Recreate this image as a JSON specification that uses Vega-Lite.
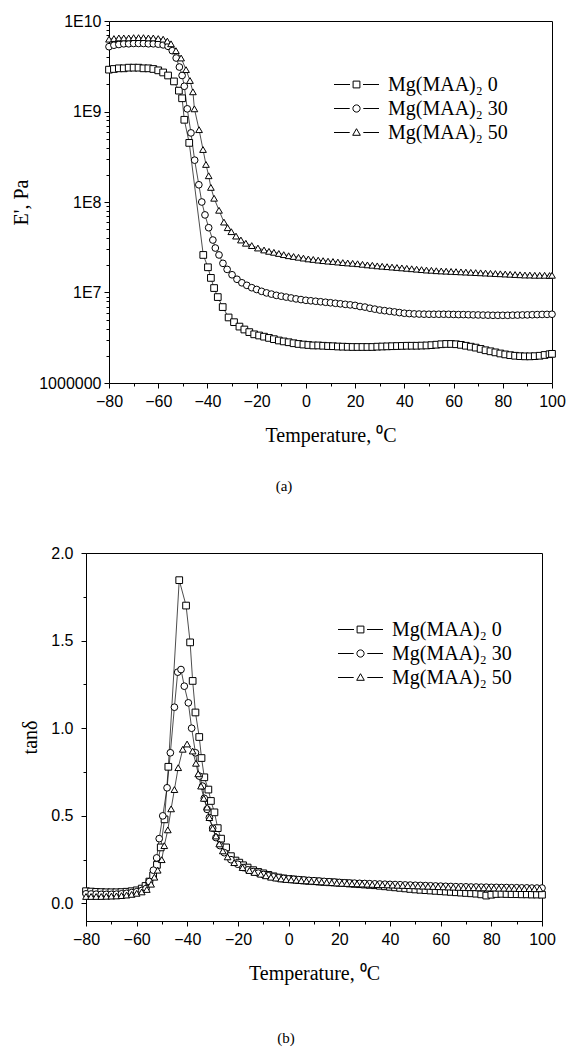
{
  "$schema": "https://vega.github.io/schema/vega-lite/v6.json",
  "background": "white",
  "padding": {"top": 13, "left": 11, "right": 5, "bottom": 5},
  "config": {
    "view": {"stroke": "black", "strokeWidth": 1},
    "axis": {"domainColor": "black", "tickColor": "black", "labelColor": "black", "titleColor": "black", "labelFont": "Liberation Sans", "labelFontSize": 16, "titleFont": "Liberation Serif", "titleFontSize": 20, "titleFontWeight": "normal", "grid": false, "domainWidth": 1, "tickWidth": 1, "labelFlush": false, "labelOverlap": false},
    "legend": {"labelFont": "Liberation Serif", "labelFontSize": 20, "labelColor": "black", "labelLimit": 400, "symbolOpacity": 1, "symbolStrokeColor": "black", "symbolStrokeWidth": 1},
    "title": {"font": "Liberation Serif", "fontSize": 15, "fontWeight": "normal", "color": "black"}
  },
  "spacing": 50,
  "resolve": {"scale": {"shape": "independent", "x": "independent", "y": "independent"}, "legend": {"shape": "independent"}},
  "datasets": {
    "modulus": [
      {"series":"0","T":-80,"E":2.9e9},{"series":"0","T":-78,"E":2.95e9},{"series":"0","T":-76,"E":3.0e9},{"series":"0","T":-74,"E":3.0e9},{"series":"0","T":-72,"E":3.05e9},{"series":"0","T":-70,"E":3.05e9},{"series":"0","T":-68,"E":3.05e9},{"series":"0","T":-66,"E":3.0e9},{"series":"0","T":-64,"E":3.0e9},{"series":"0","T":-62,"E":2.95e9},{"series":"0","T":-60,"E":2.85e9},{"series":"0","T":-58,"E":2.7e9},{"series":"0","T":-56,"E":2.5e9},{"series":"0","T":-53.6,"E":2.15e9},{"series":"0","T":-51.6,"E":1.7e9},{"series":"0","T":-50.3,"E":1.4e9},{"series":"0","T":-49.4,"E":8.1e8},{"series":"0","T":-47.4,"E":4.5e8},{"series":"0","T":-41.7,"E":2.6e7},{"series":"0","T":-39.8,"E":1.9e7},{"series":"0","T":-38.6,"E":1.45e7},{"series":"0","T":-37.3,"E":1.12e7},{"series":"0","T":-35.8,"E":8.9e6},{"series":"0","T":-33.8,"E":6.9e6},{"series":"0","T":-31.4,"E":5.3e6},{"series":"0","T":-29.2,"E":4.7e6},{"series":"0","T":-27,"E":4.2e6},{"series":"0","T":-25,"E":3.9e6},{"series":"0","T":-23,"E":3.65e6},{"series":"0","T":-21,"E":3.45e6},{"series":"0","T":-19,"E":3.35e6},{"series":"0","T":-17,"E":3.25e6},{"series":"0","T":-15,"E":3.15e6},{"series":"0","T":-13,"E":3.05e6},{"series":"0","T":-11,"E":2.95e6},{"series":"0","T":-9,"E":2.88e6},{"series":"0","T":-7,"E":2.82e6},{"series":"0","T":-5,"E":2.75e6},{"series":"0","T":-3,"E":2.7e6},{"series":"0","T":-1,"E":2.66e6},{"series":"0","T":1,"E":2.63e6},{"series":"0","T":3,"E":2.6e6},{"series":"0","T":5,"E":2.6e6},{"series":"0","T":7,"E":2.58e6},{"series":"0","T":9,"E":2.56e6},{"series":"0","T":11,"E":2.55e6},{"series":"0","T":13,"E":2.53e6},{"series":"0","T":15,"E":2.52e6},{"series":"0","T":17,"E":2.51e6},{"series":"0","T":19,"E":2.5e6},{"series":"0","T":21,"E":2.5e6},{"series":"0","T":23,"E":2.5e6},{"series":"0","T":25,"E":2.5e6},{"series":"0","T":27,"E":2.5e6},{"series":"0","T":29,"E":2.52e6},{"series":"0","T":31,"E":2.53e6},{"series":"0","T":33,"E":2.54e6},{"series":"0","T":35,"E":2.55e6},{"series":"0","T":37,"E":2.56e6},{"series":"0","T":39,"E":2.57e6},{"series":"0","T":41,"E":2.58e6},{"series":"0","T":43,"E":2.58e6},{"series":"0","T":45,"E":2.58e6},{"series":"0","T":47,"E":2.59e6},{"series":"0","T":49,"E":2.6e6},{"series":"0","T":51,"E":2.62e6},{"series":"0","T":53,"E":2.65e6},{"series":"0","T":55,"E":2.68e6},{"series":"0","T":57,"E":2.7e6},{"series":"0","T":59,"E":2.7e6},{"series":"0","T":61,"E":2.68e6},{"series":"0","T":63,"E":2.64e6},{"series":"0","T":65,"E":2.58e6},{"series":"0","T":67,"E":2.52e6},{"series":"0","T":69,"E":2.46e6},{"series":"0","T":71,"E":2.38e6},{"series":"0","T":73,"E":2.3e6},{"series":"0","T":75,"E":2.24e6},{"series":"0","T":77,"E":2.18e6},{"series":"0","T":79,"E":2.12e6},{"series":"0","T":81,"E":2.07e6},{"series":"0","T":83,"E":2.03e6},{"series":"0","T":85,"E":2.0e6},{"series":"0","T":87,"E":1.98e6},{"series":"0","T":89,"E":1.97e6},{"series":"0","T":91,"E":1.97e6},{"series":"0","T":93,"E":1.98e6},{"series":"0","T":95,"E":2.0e6},{"series":"0","T":97,"E":2.04e6},{"series":"0","T":99,"E":2.08e6},{"series":"0","T":100,"E":2.1e6},
      {"series":"30","T":-80,"E":5.2e9},{"series":"30","T":-78,"E":5.4e9},{"series":"30","T":-76,"E":5.5e9},{"series":"30","T":-74,"E":5.6e9},{"series":"30","T":-72,"E":5.6e9},{"series":"30","T":-70,"E":5.65e9},{"series":"30","T":-68,"E":5.65e9},{"series":"30","T":-66,"E":5.65e9},{"series":"30","T":-64,"E":5.6e9},{"series":"30","T":-62,"E":5.6e9},{"series":"30","T":-60,"E":5.55e9},{"series":"30","T":-58,"E":5.45e9},{"series":"30","T":-56,"E":5.25e9},{"series":"30","T":-54.3,"E":4.7e9},{"series":"30","T":-52.7,"E":3.9e9},{"series":"30","T":-51.4,"E":3.1e9},{"series":"30","T":-50.3,"E":2.5e9},{"series":"30","T":-49.4,"E":1.9e9},{"series":"30","T":-48.2,"E":1.07e9},{"series":"30","T":-46.7,"E":5.8e8},{"series":"30","T":-45.2,"E":2.9e8},{"series":"30","T":-43.5,"E":1.55e8},{"series":"30","T":-42.3,"E":1.0e8},{"series":"30","T":-41.0,"E":7.2e7},{"series":"30","T":-39.5,"E":5.2e7},{"series":"30","T":-37.8,"E":3.8e7},{"series":"30","T":-36.8,"E":3.1e7},{"series":"30","T":-35.3,"E":2.6e7},{"series":"30","T":-33.7,"E":2.1e7},{"series":"30","T":-32,"E":1.8e7},{"series":"30","T":-30,"E":1.57e7},{"series":"30","T":-28,"E":1.4e7},{"series":"30","T":-26,"E":1.28e7},{"series":"30","T":-24,"E":1.2e7},{"series":"30","T":-22,"E":1.13e7},{"series":"30","T":-20,"E":1.08e7},{"series":"30","T":-18,"E":1.03e7},{"series":"30","T":-16,"E":9.9e6},{"series":"30","T":-14,"E":9.6e6},{"series":"30","T":-12,"E":9.3e6},{"series":"30","T":-10,"E":9.1e6},{"series":"30","T":-8,"E":8.9e6},{"series":"30","T":-6,"E":8.7e6},{"series":"30","T":-4,"E":8.5e6},{"series":"30","T":-2,"E":8.35e6},{"series":"30","T":0,"E":8.2e6},{"series":"30","T":2,"E":8.1e6},{"series":"30","T":4,"E":8.0e6},{"series":"30","T":6,"E":7.9e6},{"series":"30","T":8,"E":7.8e6},{"series":"30","T":10,"E":7.7e6},{"series":"30","T":12,"E":7.6e6},{"series":"30","T":14,"E":7.5e6},{"series":"30","T":16,"E":7.4e6},{"series":"30","T":18,"E":7.3e6},{"series":"30","T":20,"E":7.2e6},{"series":"30","T":22,"E":7.0e6},{"series":"30","T":24,"E":6.9e6},{"series":"30","T":26,"E":6.7e6},{"series":"30","T":28,"E":6.55e6},{"series":"30","T":30,"E":6.4e6},{"series":"30","T":32,"E":6.3e6},{"series":"30","T":34,"E":6.2e6},{"series":"30","T":36,"E":6.1e6},{"series":"30","T":38,"E":6.0e6},{"series":"30","T":40,"E":5.9e6},{"series":"30","T":42,"E":5.85e6},{"series":"30","T":44,"E":5.8e6},{"series":"30","T":46,"E":5.78e6},{"series":"30","T":48,"E":5.76e6},{"series":"30","T":50,"E":5.75e6},{"series":"30","T":52,"E":5.75e6},{"series":"30","T":54,"E":5.75e6},{"series":"30","T":56,"E":5.75e6},{"series":"30","T":58,"E":5.74e6},{"series":"30","T":60,"E":5.72e6},{"series":"30","T":62,"E":5.7e6},{"series":"30","T":64,"E":5.7e6},{"series":"30","T":66,"E":5.68e6},{"series":"30","T":68,"E":5.66e6},{"series":"30","T":70,"E":5.65e6},{"series":"30","T":72,"E":5.63e6},{"series":"30","T":74,"E":5.62e6},{"series":"30","T":76,"E":5.6e6},{"series":"30","T":78,"E":5.6e6},{"series":"30","T":80,"E":5.6e6},{"series":"30","T":82,"E":5.6e6},{"series":"30","T":84,"E":5.62e6},{"series":"30","T":86,"E":5.63e6},{"series":"30","T":88,"E":5.65e6},{"series":"30","T":90,"E":5.66e6},{"series":"30","T":92,"E":5.68e6},{"series":"30","T":94,"E":5.7e6},{"series":"30","T":96,"E":5.72e6},{"series":"30","T":98,"E":5.73e6},{"series":"30","T":100,"E":5.75e6},
      {"series":"50","T":-80,"E":6.3e9},{"series":"50","T":-78,"E":6.4e9},{"series":"50","T":-76,"E":6.5e9},{"series":"50","T":-74,"E":6.5e9},{"series":"50","T":-72,"E":6.5e9},{"series":"50","T":-70,"E":6.55e9},{"series":"50","T":-68,"E":6.55e9},{"series":"50","T":-66,"E":6.55e9},{"series":"50","T":-64,"E":6.5e9},{"series":"50","T":-62,"E":6.5e9},{"series":"50","T":-60,"E":6.4e9},{"series":"50","T":-58,"E":6.3e9},{"series":"50","T":-56.3,"E":6.0e9},{"series":"50","T":-54.8,"E":5.6e9},{"series":"50","T":-52.8,"E":4.7e9},{"series":"50","T":-50.7,"E":3.9e9},{"series":"50","T":-48.7,"E":2.9e9},{"series":"50","T":-47.1,"E":2.2e9},{"series":"50","T":-45.9,"E":1.65e9},{"series":"50","T":-45.3,"E":1.07e9},{"series":"50","T":-43.4,"E":6.3e8},{"series":"50","T":-41.8,"E":3.8e8},{"series":"50","T":-40.6,"E":2.6e8},{"series":"50","T":-39.5,"E":1.95e8},{"series":"50","T":-38.6,"E":1.45e8},{"series":"50","T":-37.3,"E":1.1e8},{"series":"50","T":-35.3,"E":8.1e7},{"series":"50","T":-33.3,"E":6.0e7},{"series":"50","T":-31.8,"E":5.2e7},{"series":"50","T":-30.3,"E":4.7e7},{"series":"50","T":-28.4,"E":4.2e7},{"series":"50","T":-26.4,"E":3.8e7},{"series":"50","T":-24.4,"E":3.5e7},{"series":"50","T":-22,"E":3.3e7},{"series":"50","T":-19.5,"E":3.1e7},{"series":"50","T":-17,"E":2.95e7},{"series":"50","T":-15,"E":2.85e7},{"series":"50","T":-13,"E":2.78e7},{"series":"50","T":-11,"E":2.7e7},{"series":"50","T":-9,"E":2.62e7},{"series":"50","T":-7,"E":2.55e7},{"series":"50","T":-5,"E":2.5e7},{"series":"50","T":-3,"E":2.45e7},{"series":"50","T":-1,"E":2.4e7},{"series":"50","T":1,"E":2.35e7},{"series":"50","T":3,"E":2.32e7},{"series":"50","T":5,"E":2.28e7},{"series":"50","T":7,"E":2.25e7},{"series":"50","T":9,"E":2.22e7},{"series":"50","T":11,"E":2.2e7},{"series":"50","T":13,"E":2.17e7},{"series":"50","T":15,"E":2.14e7},{"series":"50","T":17,"E":2.12e7},{"series":"50","T":19,"E":2.1e7},{"series":"50","T":21,"E":2.08e7},{"series":"50","T":23,"E":2.05e7},{"series":"50","T":25,"E":2.02e7},{"series":"50","T":27,"E":2.0e7},{"series":"50","T":29,"E":1.97e7},{"series":"50","T":31,"E":1.95e7},{"series":"50","T":33,"E":1.93e7},{"series":"50","T":35,"E":1.91e7},{"series":"50","T":37,"E":1.89e7},{"series":"50","T":39,"E":1.87e7},{"series":"50","T":41,"E":1.85e7},{"series":"50","T":43,"E":1.83e7},{"series":"50","T":45,"E":1.81e7},{"series":"50","T":47,"E":1.79e7},{"series":"50","T":49,"E":1.77e7},{"series":"50","T":51,"E":1.76e7},{"series":"50","T":53,"E":1.74e7},{"series":"50","T":55,"E":1.73e7},{"series":"50","T":57,"E":1.72e7},{"series":"50","T":59,"E":1.71e7},{"series":"50","T":61,"E":1.7e7},{"series":"50","T":63,"E":1.69e7},{"series":"50","T":65,"E":1.68e7},{"series":"50","T":67,"E":1.67e7},{"series":"50","T":69,"E":1.66e7},{"series":"50","T":71,"E":1.65e7},{"series":"50","T":73,"E":1.64e7},{"series":"50","T":75,"E":1.63e7},{"series":"50","T":77,"E":1.62e7},{"series":"50","T":79,"E":1.61e7},{"series":"50","T":81,"E":1.6e7},{"series":"50","T":83,"E":1.59e7},{"series":"50","T":85,"E":1.58e7},{"series":"50","T":87,"E":1.57e7},{"series":"50","T":89,"E":1.56e7},{"series":"50","T":91,"E":1.56e7},{"series":"50","T":93,"E":1.55e7},{"series":"50","T":95,"E":1.55e7},{"series":"50","T":97,"E":1.55e7},{"series":"50","T":99,"E":1.54e7},{"series":"50","T":100,"E":1.55e7}
    ],
    "tand": [
      {"series":"0","T":-80,"tan":0.07},{"series":"0","T":-78,"tan":0.068},{"series":"0","T":-76,"tan":0.066},{"series":"0","T":-74,"tan":0.065},{"series":"0","T":-72,"tan":0.064},{"series":"0","T":-70,"tan":0.064},{"series":"0","T":-68,"tan":0.064},{"series":"0","T":-66,"tan":0.065},{"series":"0","T":-64,"tan":0.067},{"series":"0","T":-62,"tan":0.07},{"series":"0","T":-60,"tan":0.075},{"series":"0","T":-58,"tan":0.085},{"series":"0","T":-56.5,"tan":0.1},{"series":"0","T":-55,"tan":0.125},{"series":"0","T":-53.5,"tan":0.16},{"series":"0","T":-52,"tan":0.22},{"series":"0","T":-50.5,"tan":0.32},{"series":"0","T":-49,"tan":0.48},{"series":"0","T":-47.5,"tan":0.78},{"series":"0","T":-43.2,"tan":1.845},{"series":"0","T":-40.5,"tan":1.7},{"series":"0","T":-38.9,"tan":1.49},{"series":"0","T":-37.9,"tan":1.27},{"series":"0","T":-36.8,"tan":1.09},{"series":"0","T":-35.3,"tan":0.95},{"series":"0","T":-34.4,"tan":0.83},{"series":"0","T":-33.3,"tan":0.72},{"series":"0","T":-31.7,"tan":0.65},{"series":"0","T":-30.7,"tan":0.585},{"series":"0","T":-29.3,"tan":0.52},{"series":"0","T":-28,"tan":0.43},{"series":"0","T":-26.7,"tan":0.37},{"series":"0","T":-24.7,"tan":0.32},{"series":"0","T":-22.8,"tan":0.27},{"series":"0","T":-21,"tan":0.245},{"series":"0","T":-19.5,"tan":0.233},{"series":"0","T":-18,"tan":0.218},{"series":"0","T":-16.2,"tan":0.205},{"series":"0","T":-14,"tan":0.19},{"series":"0","T":-12,"tan":0.18},{"series":"0","T":-10,"tan":0.172},{"series":"0","T":-8,"tan":0.163},{"series":"0","T":-6,"tan":0.155},{"series":"0","T":-4,"tan":0.148},{"series":"0","T":-2,"tan":0.143},{"series":"0","T":0,"tan":0.14},{"series":"0","T":2,"tan":0.137},{"series":"0","T":4,"tan":0.134},{"series":"0","T":6,"tan":0.131},{"series":"0","T":8,"tan":0.129},{"series":"0","T":10,"tan":0.127},{"series":"0","T":12,"tan":0.125},{"series":"0","T":14,"tan":0.123},{"series":"0","T":16,"tan":0.121},{"series":"0","T":18,"tan":0.12},{"series":"0","T":20,"tan":0.118},{"series":"0","T":22,"tan":0.116},{"series":"0","T":24,"tan":0.114},{"series":"0","T":26,"tan":0.112},{"series":"0","T":28,"tan":0.11},{"series":"0","T":30,"tan":0.108},{"series":"0","T":32,"tan":0.106},{"series":"0","T":34,"tan":0.104},{"series":"0","T":36,"tan":0.101},{"series":"0","T":38,"tan":0.098},{"series":"0","T":40,"tan":0.095},{"series":"0","T":42,"tan":0.092},{"series":"0","T":44,"tan":0.089},{"series":"0","T":46,"tan":0.086},{"series":"0","T":48,"tan":0.083},{"series":"0","T":50,"tan":0.08},{"series":"0","T":52,"tan":0.078},{"series":"0","T":54,"tan":0.076},{"series":"0","T":56,"tan":0.074},{"series":"0","T":58,"tan":0.072},{"series":"0","T":60,"tan":0.07},{"series":"0","T":62,"tan":0.068},{"series":"0","T":64,"tan":0.066},{"series":"0","T":66,"tan":0.064},{"series":"0","T":68,"tan":0.062},{"series":"0","T":70,"tan":0.06},{"series":"0","T":72,"tan":0.058},{"series":"0","T":74,"tan":0.056},{"series":"0","T":76,"tan":0.052},{"series":"0","T":78,"tan":0.045},{"series":"0","T":80,"tan":0.05},{"series":"0","T":82,"tan":0.054},{"series":"0","T":84,"tan":0.055},{"series":"0","T":86,"tan":0.054},{"series":"0","T":88,"tan":0.053},{"series":"0","T":90,"tan":0.053},{"series":"0","T":92,"tan":0.052},{"series":"0","T":94,"tan":0.052},{"series":"0","T":96,"tan":0.051},{"series":"0","T":98,"tan":0.051},{"series":"0","T":100,"tan":0.05},
      {"series":"30","T":-80,"tan":0.055},{"series":"30","T":-78,"tan":0.054},{"series":"30","T":-76,"tan":0.053},{"series":"30","T":-74,"tan":0.052},{"series":"30","T":-72,"tan":0.052},{"series":"30","T":-70,"tan":0.052},{"series":"30","T":-68,"tan":0.053},{"series":"30","T":-66,"tan":0.055},{"series":"30","T":-64,"tan":0.058},{"series":"30","T":-62,"tan":0.062},{"series":"30","T":-60,"tan":0.067},{"series":"30","T":-58,"tan":0.074},{"series":"30","T":-56.3,"tan":0.085},{"series":"30","T":-55,"tan":0.125},{"series":"30","T":-53.4,"tan":0.19},{"series":"30","T":-52.1,"tan":0.26},{"series":"30","T":-51.1,"tan":0.37},{"series":"30","T":-49.7,"tan":0.5},{"series":"30","T":-48,"tan":0.66},{"series":"30","T":-46.7,"tan":0.86},{"series":"30","T":-45.1,"tan":1.12},{"series":"30","T":-43.8,"tan":1.32},{"series":"30","T":-42.5,"tan":1.335},{"series":"30","T":-41.2,"tan":1.24},{"series":"30","T":-39.6,"tan":1.145},{"series":"30","T":-38.3,"tan":1.0},{"series":"30","T":-36.8,"tan":0.86},{"series":"30","T":-35.3,"tan":0.727},{"series":"30","T":-34,"tan":0.67},{"series":"30","T":-33.3,"tan":0.6},{"series":"30","T":-32.2,"tan":0.537},{"series":"30","T":-31.3,"tan":0.49},{"series":"30","T":-30,"tan":0.43},{"series":"30","T":-28.7,"tan":0.376},{"series":"30","T":-27.1,"tan":0.33},{"series":"30","T":-25.4,"tan":0.29},{"series":"30","T":-22.8,"tan":0.25},{"series":"30","T":-20.1,"tan":0.224},{"series":"30","T":-18,"tan":0.205},{"series":"30","T":-16,"tan":0.192},{"series":"30","T":-14,"tan":0.182},{"series":"30","T":-12,"tan":0.173},{"series":"30","T":-10,"tan":0.165},{"series":"30","T":-8,"tan":0.158},{"series":"30","T":-6,"tan":0.152},{"series":"30","T":-4,"tan":0.147},{"series":"30","T":-2,"tan":0.143},{"series":"30","T":0,"tan":0.14},{"series":"30","T":2,"tan":0.138},{"series":"30","T":4,"tan":0.136},{"series":"30","T":6,"tan":0.134},{"series":"30","T":8,"tan":0.132},{"series":"30","T":10,"tan":0.13},{"series":"30","T":12,"tan":0.128},{"series":"30","T":14,"tan":0.126},{"series":"30","T":16,"tan":0.124},{"series":"30","T":18,"tan":0.122},{"series":"30","T":20,"tan":0.12},{"series":"30","T":22,"tan":0.118},{"series":"30","T":24,"tan":0.117},{"series":"30","T":26,"tan":0.116},{"series":"30","T":28,"tan":0.115},{"series":"30","T":30,"tan":0.114},{"series":"30","T":32,"tan":0.113},{"series":"30","T":34,"tan":0.112},{"series":"30","T":36,"tan":0.111},{"series":"30","T":38,"tan":0.11},{"series":"30","T":40,"tan":0.109},{"series":"30","T":42,"tan":0.108},{"series":"30","T":44,"tan":0.107},{"series":"30","T":46,"tan":0.106},{"series":"30","T":48,"tan":0.105},{"series":"30","T":50,"tan":0.104},{"series":"30","T":52,"tan":0.103},{"series":"30","T":54,"tan":0.102},{"series":"30","T":56,"tan":0.101},{"series":"30","T":58,"tan":0.1},{"series":"30","T":60,"tan":0.099},{"series":"30","T":62,"tan":0.098},{"series":"30","T":64,"tan":0.097},{"series":"30","T":66,"tan":0.096},{"series":"30","T":68,"tan":0.095},{"series":"30","T":70,"tan":0.095},{"series":"30","T":72,"tan":0.094},{"series":"30","T":74,"tan":0.094},{"series":"30","T":76,"tan":0.093},{"series":"30","T":78,"tan":0.093},{"series":"30","T":80,"tan":0.092},{"series":"30","T":82,"tan":0.092},{"series":"30","T":84,"tan":0.091},{"series":"30","T":86,"tan":0.091},{"series":"30","T":88,"tan":0.09},{"series":"30","T":90,"tan":0.09},{"series":"30","T":92,"tan":0.089},{"series":"30","T":94,"tan":0.089},{"series":"30","T":96,"tan":0.088},{"series":"30","T":98,"tan":0.088},{"series":"30","T":100,"tan":0.088},
      {"series":"50","T":-80,"tan":0.04},{"series":"50","T":-78,"tan":0.04},{"series":"50","T":-76,"tan":0.04},{"series":"50","T":-74,"tan":0.04},{"series":"50","T":-72,"tan":0.041},{"series":"50","T":-70,"tan":0.042},{"series":"50","T":-68,"tan":0.043},{"series":"50","T":-66,"tan":0.045},{"series":"50","T":-64,"tan":0.048},{"series":"50","T":-62,"tan":0.052},{"series":"50","T":-60,"tan":0.058},{"series":"50","T":-58,"tan":0.066},{"series":"50","T":-56,"tan":0.08},{"series":"50","T":-54.3,"tan":0.11},{"series":"50","T":-53,"tan":0.15},{"series":"50","T":-51.7,"tan":0.19},{"series":"50","T":-50.1,"tan":0.25},{"series":"50","T":-49.1,"tan":0.33},{"series":"50","T":-47.7,"tan":0.42},{"series":"50","T":-46.4,"tan":0.54},{"series":"50","T":-45.1,"tan":0.65},{"series":"50","T":-43.6,"tan":0.775},{"series":"50","T":-41.8,"tan":0.88},{"series":"50","T":-40.1,"tan":0.91},{"series":"50","T":-37.9,"tan":0.87},{"series":"50","T":-36.6,"tan":0.8},{"series":"50","T":-35.7,"tan":0.74},{"series":"50","T":-34.6,"tan":0.67},{"series":"50","T":-33.5,"tan":0.6},{"series":"50","T":-32.2,"tan":0.55},{"series":"50","T":-31.3,"tan":0.49},{"series":"50","T":-30,"tan":0.43},{"series":"50","T":-28.7,"tan":0.385},{"series":"50","T":-27.4,"tan":0.34},{"series":"50","T":-26,"tan":0.3},{"series":"50","T":-24.1,"tan":0.266},{"series":"50","T":-21.5,"tan":0.233},{"series":"50","T":-18.2,"tan":0.205},{"series":"50","T":-15.5,"tan":0.188},{"series":"50","T":-13.5,"tan":0.177},{"series":"50","T":-11,"tan":0.167},{"series":"50","T":-9,"tan":0.158},{"series":"50","T":-7,"tan":0.15},{"series":"50","T":-5,"tan":0.145},{"series":"50","T":-3,"tan":0.14},{"series":"50","T":-1,"tan":0.137},{"series":"50","T":1,"tan":0.135},{"series":"50","T":3,"tan":0.133},{"series":"50","T":5,"tan":0.131},{"series":"50","T":7,"tan":0.129},{"series":"50","T":9,"tan":0.127},{"series":"50","T":11,"tan":0.125},{"series":"50","T":13,"tan":0.123},{"series":"50","T":15,"tan":0.121},{"series":"50","T":17,"tan":0.119},{"series":"50","T":19,"tan":0.117},{"series":"50","T":21,"tan":0.115},{"series":"50","T":23,"tan":0.114},{"series":"50","T":25,"tan":0.113},{"series":"50","T":27,"tan":0.112},{"series":"50","T":29,"tan":0.111},{"series":"50","T":31,"tan":0.11},{"series":"50","T":33,"tan":0.109},{"series":"50","T":35,"tan":0.108},{"series":"50","T":37,"tan":0.107},{"series":"50","T":39,"tan":0.106},{"series":"50","T":41,"tan":0.105},{"series":"50","T":43,"tan":0.104},{"series":"50","T":45,"tan":0.103},{"series":"50","T":47,"tan":0.102},{"series":"50","T":49,"tan":0.101},{"series":"50","T":51,"tan":0.1},{"series":"50","T":53,"tan":0.099},{"series":"50","T":55,"tan":0.098},{"series":"50","T":57,"tan":0.097},{"series":"50","T":59,"tan":0.096},{"series":"50","T":61,"tan":0.095},{"series":"50","T":63,"tan":0.094},{"series":"50","T":65,"tan":0.093},{"series":"50","T":67,"tan":0.092},{"series":"50","T":69,"tan":0.091},{"series":"50","T":71,"tan":0.09},{"series":"50","T":73,"tan":0.09},{"series":"50","T":75,"tan":0.089},{"series":"50","T":77,"tan":0.089},{"series":"50","T":79,"tan":0.088},{"series":"50","T":81,"tan":0.088},{"series":"50","T":83,"tan":0.087},{"series":"50","T":85,"tan":0.087},{"series":"50","T":87,"tan":0.086},{"series":"50","T":89,"tan":0.086},{"series":"50","T":91,"tan":0.085},{"series":"50","T":93,"tan":0.085},{"series":"50","T":95,"tan":0.085},{"series":"50","T":97,"tan":0.084},{"series":"50","T":99,"tan":0.084}
    ]
  },
  "vconcat": [
    {
      "width": 466,
      "height": 362,
      "view": {"stroke": null},
      "title": {"text": "(a)", "orient": "bottom", "offset": 34, "anchor": "middle", "dx": -35},
      "data": {"name": "modulus"},
      "resolve": {"scale": {"shape": "independent"}, "legend": {"shape": "independent"}, "axis": {"x": "independent", "y": "independent"}},
      "encoding": {
        "x": {"field": "T", "type": "quantitative", "title": "Temperature, ⁰C",
          "scale": {"domain": [-80, 100], "nice": false, "zero": false, "range": [23, 466]},
          "axis": {"values": [-80,-70,-60,-50,-40,-30,-20,-10,0,10,20,30,40,50,60,70,80,90,100],
            "labelExpr": "datum.value % 20 == 0 ? datum.label : ''",
            "tickSize": {"condition": {"test": "datum.value % 20 == 0", "value": 5}, "value": 3},
            "labelPadding": 5, "titlePadding": 16}},
        "y": {"field": "E", "type": "quantitative", "title": "E', Pa",
          "scale": {"type": "log", "domain": [1000000, 10000000000], "nice": false},
          "axis": {"offset": -23, "values": [1e6,2e6,3e6,4e6,5e6,6e6,7e6,8e6,9e6,1e7,2e7,3e7,4e7,5e7,6e7,7e7,8e7,9e7,1e8,2e8,3e8,4e8,5e8,6e8,7e8,8e8,9e8,1e9,2e9,3e9,4e9,5e9,6e9,7e9,8e9,9e9,1e10],
            "labelExpr": "datum.value == 1000000 ? '1000000' : datum.value == 10000000 ? '1E7' : datum.value == 100000000 ? '1E8' : datum.value == 1000000000 ? '1E9' : datum.value == 10000000000 ? '1E10' : ''",
            "tickSize": {"condition": {"test": "indexof([1000000,10000000,100000000,1000000000,10000000000], datum.value) >= 0", "value": 5}, "value": 3},
            "labelPadding": 3, "titlePadding": 7}}
      },
      "layer": [
        {"mark": {"type": "line", "color": "black", "strokeWidth": 0.7},
         "encoding": {"detail": {"field": "series"},
           "x": {"field": "T", "type": "quantitative", "axis": {"orient": "top", "labels": false, "ticks": false, "title": null, "domain": true}},
           "y": {"field": "E", "type": "quantitative", "axis": {"orient": "right", "labels": false, "ticks": false, "title": null, "domain": true}}}},
        {"mark": {"type": "point", "filled": true, "fill": "white", "stroke": "black", "strokeWidth": 1, "size": 45, "opacity": 1},
         "encoding": {"shape": {"field": "series", "type": "nominal",
           "scale": {"domain": ["0", "30", "50"], "range": ["square", "circle", "triangle-up"]},
           "legend": null}}},
        {"transform": [{"filter": "false"}],
         "mark": {"type": "point", "filled": false, "color": "black", "strokeWidth": 1, "size": 400},
         "encoding": {
           "x": {"field": "T", "type": "quantitative", "axis": null},
           "y": {"field": "E", "type": "quantitative", "axis": null},
           "shape": {"field": "series", "type": "nominal",
           "scale": {"domain": ["0", "30", "50"], "range": ["M-2.25,0H-0.65M0.65,0H2.25M-0.34,-0.34H0.34V0.34H-0.34Z", "M-2.25,0H-0.68M0.68,0H2.25M0.36,0A0.36,0.36,0,1,1,-0.36,0A0.36,0.36,0,1,1,0.36,0Z", "M-2.25,0H-0.68M0.68,0H2.25M0,-0.38L0.38,0.28L-0.38,0.28Z"]},
           "legend": {"title": null, "orient": "none", "legendX": 260, "legendY": 53, "symbolSize": 400, "labelOffset": 21, "rowPadding": 3,
             "labelExpr": "'Mg(MAA)₂ ' + datum.label"}}}}
      ]
    },
    {
      "width": 456,
      "height": 368,
      "title": {"text": "(b)", "orient": "bottom", "offset": 48, "anchor": "middle", "dx": -28},
      "data": {"name": "tand"},
      "resolve": {"scale": {"shape": "independent"}, "legend": {"shape": "independent"}},
      "encoding": {
        "x": {"field": "T", "type": "quantitative", "title": "Temperature, ⁰C",
          "scale": {"domain": [-80, 100], "nice": false, "zero": false},
          "axis": {"values": [-80,-70,-60,-50,-40,-30,-20,-10,0,10,20,30,40,50,60,70,80,90,100],
            "labelExpr": "datum.value % 20 == 0 ? datum.label : ''",
            "tickSize": {"condition": {"test": "datum.value % 20 == 0", "value": 5}, "value": 3},
            "labelPadding": 5, "titlePadding": 16}},
        "y": {"field": "tan", "type": "quantitative", "title": "tanδ",
          "scale": {"domain": [-0.1, 2.0], "nice": false, "zero": false},
          "axis": {"values": [0,0.25,0.5,0.75,1,1.25,1.5,1.75,2],
            "labelExpr": "datum.value * 2 == round(datum.value * 2) ? format(datum.value, '.1f') : ''",
            "tickSize": {"condition": {"test": "datum.value * 2 == round(datum.value * 2)", "value": 5}, "value": 3},
            "labelPadding": 8, "titlePadding": 10}}
      },
      "layer": [
        {"mark": {"type": "line", "color": "black", "strokeWidth": 0.7},
         "encoding": {"detail": {"field": "series"}}},
        {"mark": {"type": "point", "filled": true, "fill": "white", "stroke": "black", "strokeWidth": 1, "size": 45, "opacity": 1},
         "encoding": {"shape": {"field": "series", "type": "nominal",
           "scale": {"domain": ["0", "30", "50"], "range": ["square", "circle", "triangle-up"]},
           "legend": null}}},
        {"transform": [{"filter": "false"}],
         "mark": {"type": "point", "filled": false, "color": "black", "strokeWidth": 1, "size": 400},
         "encoding": {"shape": {"field": "series", "type": "nominal",
           "scale": {"domain": ["0", "30", "50"], "range": ["M-2.25,0H-0.65M0.65,0H2.25M-0.34,-0.34H0.34V0.34H-0.34Z", "M-2.25,0H-0.68M0.68,0H2.25M0.36,0A0.36,0.36,0,1,1,-0.36,0A0.36,0.36,0,1,1,0.36,0Z", "M-2.25,0H-0.68M0.68,0H2.25M0,-0.38L0.38,0.28L-0.38,0.28Z"]},
           "legend": {"title": null, "orient": "none", "legendX": 264, "legendY": 66, "symbolSize": 400, "labelOffset": 21, "rowPadding": 3,
             "labelExpr": "'Mg(MAA)₂ ' + datum.label"}}}}
      ]
    }
  ]
}
